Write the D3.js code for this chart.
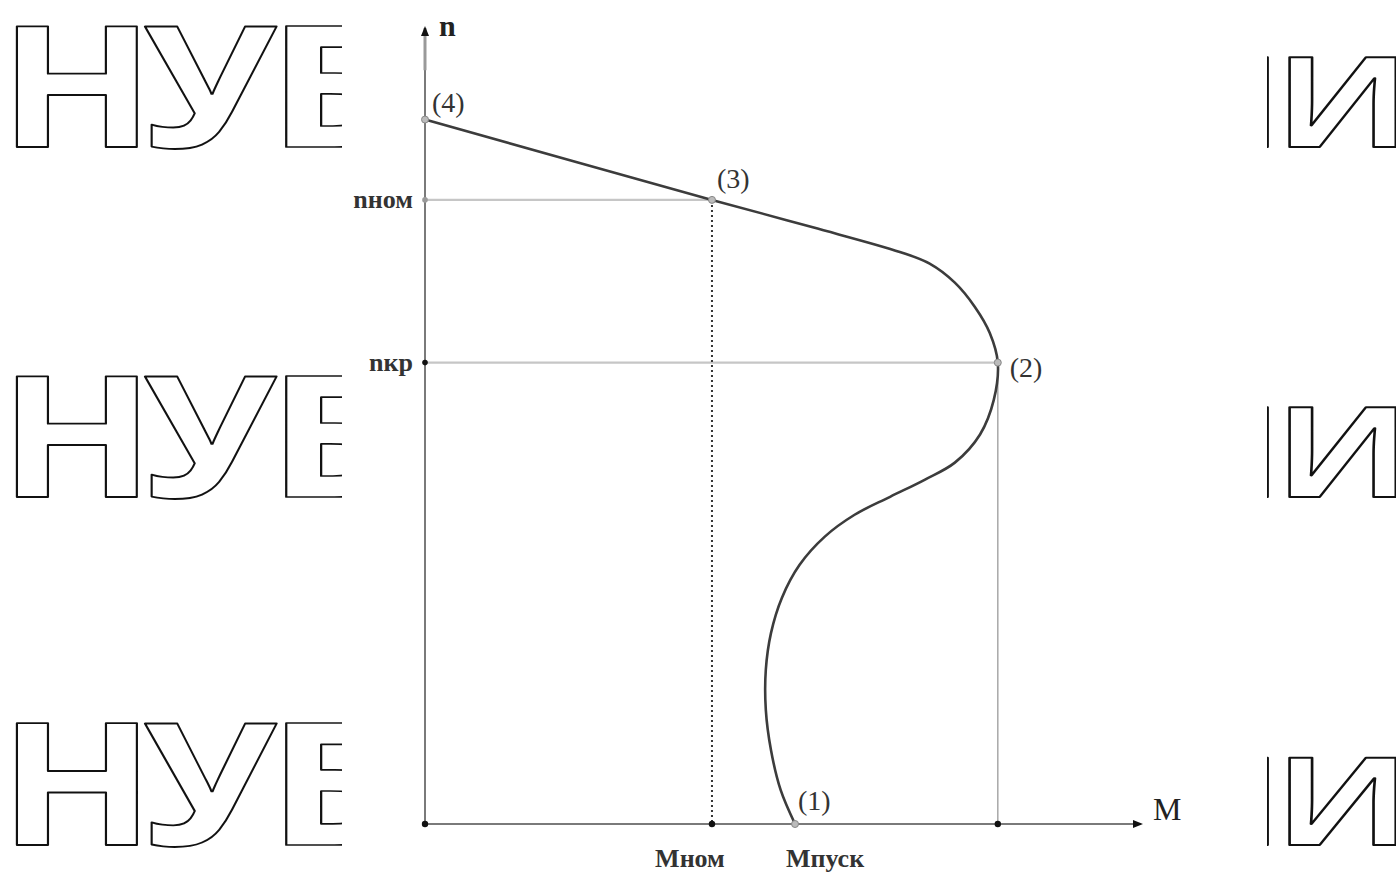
<!DOCTYPE html>
<html>
<head>
<meta charset="utf-8">
<script src="https://cdn.jsdelivr.net/npm/d3@7"></script>
<style>
  html, body { margin: 0; padding: 0; background: #fff; }
  svg { display: block; }
</style>
</head>
<body>
<svg id="chart" width="1396" height="872"></svg>
<script>
// Mechanical characteristic n(M) of an induction motor (relative units: M / Mкр, n / n0)
const curveM = [0.000, 0.501, 0.677, 0.829, 0.881, 0.925, 0.960, 0.986, 1.000, 0.993, 0.969, 0.925, 0.873, 0.812, 0.750, 0.698, 0.654, 0.623, 0.604, 0.595, 0.595, 0.604, 0.621, 0.646];
const curveN = [1.000, 0.886, 0.847, 0.812, 0.7955, 0.7685, 0.734, 0.697, 0.655, 0.602, 0.553, 0.513, 0.489, 0.4645, 0.439, 0.408, 0.368, 0.321, 0.271, 0.219, 0.162, 0.105, 0.048, 0.000];

// characteristic points (1)..(4)
const pointNames = ["(1)", "(2)", "(3)", "(4)"];
const pointM = [0.646, 1.000, 0.501, 0.000];
const pointN = [0.000, 0.655, 0.886, 1.000];

// axis marks
const mTickLabels = ["Mном", "Mпуск"];
const mTickValues = [0.501, 0.646];
const nTickLabels = ["nном", "nкр"];
const nTickValues = [0.886, 0.655];
const axisNames = ["M", "n"];

// background lettering: ink box left/right of each letter, cap tops and baselines of the rows
const wmLettersL = ["Н", "У", "Б"];
const wmLeftL  = [15, 143, 284];
const wmRightL = [138, 278, 404];
const wmTopL   = [25, 375, 722];
const wmLettersR = ["І", "И"];
const wmEdgesR = [1269, 1288, 1397];   // right edge of І, left and right edges of И
const wmTopR   = [57, 407, 757];
const wmRowBottom = [147, 497, 845];

const svg = d3.select("#chart");

// ---- background lettering ----
const defs = svg.append("defs");
defs.append("clipPath").attr("id", "clipL").append("rect")
  .attr("x", 0).attr("y", 0).attr("width", 342).attr("height", 872);
defs.append("clipPath").attr("id", "clipR").append("rect")
  .attr("x", 1267).attr("y", 0).attr("width", 129).attr("height", 872);

const wmFont = "'Open Sans', 'DejaVu Sans', sans-serif";
const ctx = document.createElement("canvas").getContext("2d");
ctx.font = `700 100px ${wmFont}`;
const ink = ch => {
  const m = ctx.measureText(ch);
  return {
    l: m.actualBoundingBoxLeft ?? -9,
    r: m.actualBoundingBoxRight ?? 60,
    h: m.actualBoundingBoxAscent ?? 71
  };
};
const outlined = sel => sel
  .attr("font-family", wmFont).attr("font-weight", 700)
  .attr("fill", "#fff").attr("stroke", "#111").attr("stroke-width", 2)
  .attr("stroke-linejoin", "round")
  .attr("vector-effect", "non-scaling-stroke");

const wmL = svg.append("g").attr("clip-path", "url(#clipL)");
const wmR = svg.append("g").attr("clip-path", "url(#clipR)");

wmLettersL.forEach((ch, i) => {
  const b = ink(ch);
  wmRowBottom.forEach((yb, r) => {
    const k = (yb - wmTopL[r]) / b.h;
    const sx = (wmRightL[i] - wmLeftL[i]) / ((b.r + b.l) * k);
    wmL.append("text")
      .attr("transform", `translate(${wmLeftL[i]},${yb}) scale(${sx},1)`)
      .attr("x", b.l * k).attr("y", 0)
      .attr("font-size", 100 * k)
      .text(ch)
      .call(outlined);
  });
});

const bI = ink(wmLettersR[0]);
const bИ = ink(wmLettersR[1]);
wmRowBottom.forEach((yb, r) => {
  const k = (yb - wmTopR[r]) / bИ.h;
  const sx = (wmEdgesR[2] - wmEdgesR[1]) / ((bИ.r + bИ.l) * k);
  const t = wmR.append("text")
    .attr("transform", `translate(0,${yb}) scale(${sx},1)`)
    .attr("y", 0)
    .attr("font-size", 100 * k)
    .call(outlined);
  t.append("tspan").attr("x", wmEdgesR[0] / sx - bI.r * k).text(wmLettersR[0]);
  t.append("tspan").attr("x", wmEdgesR[1] / sx + bИ.l * k).text(wmLettersR[1]);
});

// ---- scales ----
const x = d3.scaleLinear().domain([0, 1.25]).range([425, 1141]);
const y = d3.scaleLinear().domain([0, 1.13]).range([824, 28]);

const g = svg.append("g");
const serif = "'Liberation Serif', 'DejaVu Serif', serif";

// guide lines from nном and nкр to the curve
g.selectAll("line.hguide").data(nTickValues).join("line")
  .attr("class", "hguide")
  .attr("x1", x(0)).attr("x2", (d, i) => x(i === 0 ? pointM[2] : pointM[1]))
  .attr("y1", d => y(d)).attr("y2", d => y(d))
  .attr("stroke", "#c6c6c6").attr("stroke-width", 2.2);

// dotted drop line from (3) to Mном
g.append("line")
  .attr("x1", x(pointM[2])).attr("x2", x(pointM[2]))
  .attr("y1", y(pointN[2])).attr("y2", y(0))
  .attr("stroke", "#333").attr("stroke-width", 2)
  .attr("stroke-dasharray", "2,3");

// thin drop line from (2) to the M axis
g.append("line")
  .attr("x1", x(pointM[1])).attr("x2", x(pointM[1]))
  .attr("y1", y(pointN[1])).attr("y2", y(0))
  .attr("stroke", "#a8a8a8").attr("stroke-width", 1.5);

// axes
g.append("line")
  .attr("x1", x(0)).attr("x2", x(1.25))
  .attr("y1", y(0)).attr("y2", y(0))
  .attr("stroke", "#7a7a7a").attr("stroke-width", 2);
g.append("line")
  .attr("x1", x(0)).attr("x2", x(0))
  .attr("y1", y(0)).attr("y2", y(1.13))
  .attr("stroke", "#7a7a7a").attr("stroke-width", 2);
g.append("line")
  .attr("x1", x(0)).attr("x2", x(0))
  .attr("y1", y(1.13)).attr("y2", y(1.07))
  .attr("stroke", "#999").attr("stroke-width", 3);

// arrow heads
g.append("path")
  .attr("d", `M${x(1.25) + 2},${y(0)} l-10,-4 l0,8 z`)
  .attr("fill", "#111");
g.append("path")
  .attr("d", `M${x(0)},${y(1.13) - 2} l-4,10 l8,0 z`)
  .attr("fill", "#111");

// axis names
g.append("text").attr("x", x(1.25) + 12).attr("y", y(0) - 4)
  .attr("font-family", serif).attr("font-size", 32)
  .attr("fill", "#222").text(axisNames[0]);
g.append("text").attr("x", x(0) + 14).attr("y", y(1.13) + 8)
  .attr("font-family", serif).attr("font-size", 30).attr("font-weight", 700)
  .attr("fill", "#222").text(axisNames[1]);

// tick dots on the axes
const mDots = [0, mTickValues[0], pointM[1]];
g.selectAll("circle.mdot").data(mDots).join("circle")
  .attr("class", "mdot")
  .attr("cx", d => x(d)).attr("cy", y(0)).attr("r", 3.2)
  .attr("fill", "#111");
g.selectAll("circle.ndot").data(nTickValues).join("circle")
  .attr("class", "ndot")
  .attr("cx", x(0)).attr("cy", d => y(d)).attr("r", 2.8)
  .attr("fill", (d, i) => i === 1 ? "#111" : "#999");

// tick labels
g.selectAll("text.mlab").data(mTickValues).join("text")
  .attr("class", "mlab")
  .attr("x", (d, i) => x(d) + (i === 0 ? -22 : 30))
  .attr("y", y(0) + 43)
  .attr("text-anchor", "middle")
  .attr("font-family", serif).attr("font-size", 26).attr("font-weight", 700)
  .attr("fill", "#333")
  .text((d, i) => mTickLabels[i]);
g.selectAll("text.nlab").data(nTickValues).join("text")
  .attr("class", "nlab")
  .attr("x", x(0) - 12)
  .attr("y", d => y(d) + 8)
  .attr("text-anchor", "end")
  .attr("font-family", serif).attr("font-size", 26).attr("font-weight", 700)
  .attr("fill", "#333")
  .text((d, i) => nTickLabels[i]);

// the characteristic
const curve = curveM.map((m, i) => [m, curveN[i]]);
g.append("path")
  .datum(curve)
  .attr("d", d3.line().x(d => x(d[0])).y(d => y(d[1])).curve(d3.curveCatmullRom.alpha(0.5)))
  .attr("fill", "none")
  .attr("stroke", "#3c3c3c")
  .attr("stroke-width", 2.6)
  .attr("stroke-linejoin", "round");

// characteristic points and their numbers
g.selectAll("circle.pt").data(pointM).join("circle")
  .attr("class", "pt")
  .attr("cx", d => x(d)).attr("cy", (d, i) => y(pointN[i])).attr("r", 3.5)
  .attr("fill", "#bbb").attr("stroke", "#888").attr("stroke-width", 1);

const labelShift = [[3, -14], [12, 14], [5, -12], [7, -8]];
g.selectAll("text.pl").data(pointNames).join("text")
  .attr("class", "pl")
  .attr("x", (d, i) => x(pointM[i]) + labelShift[i][0])
  .attr("y", (d, i) => y(pointN[i]) + labelShift[i][1])
  .attr("font-family", serif).attr("font-size", 28)
  .attr("fill", "#333")
  .text(d => d);
</script>
</body>
</html>
